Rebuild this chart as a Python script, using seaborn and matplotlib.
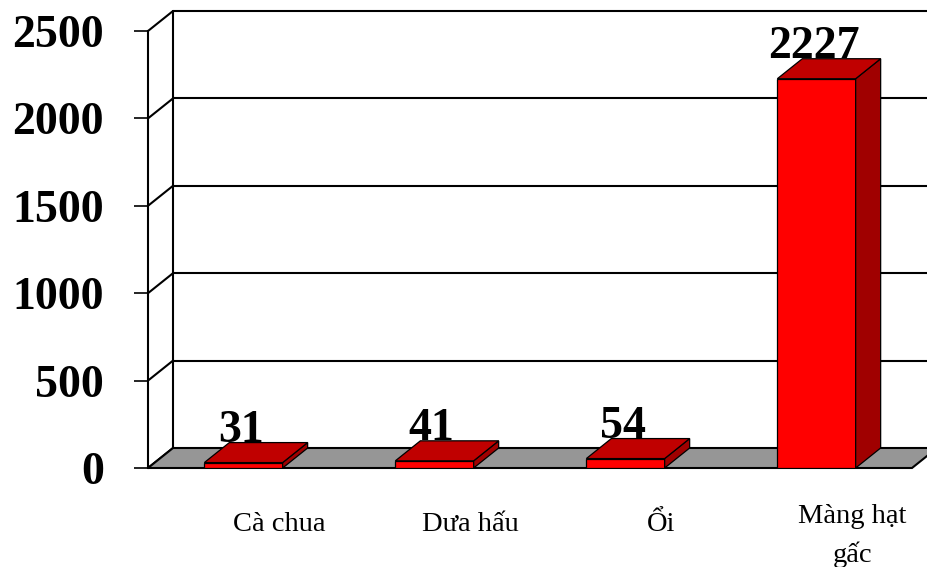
import pandas as pd
import seaborn as sns
import matplotlib.pyplot as plt
from matplotlib.patches import Polygon
from matplotlib.transforms import IdentityTransform

# dữ liệu
categories = ['Cà chua', 'Dưa hấu', 'Ổi', 'Màng hạt\ngấc']
values = [31, 41, 54, 2227]
yticks = [0, 500, 1000, 1500, 2000, 2500]

sns.set_style('white')
plt.rcParams['font.family'] = ['Liberation Serif', 'DejaVu Serif']
plt.rcParams['text.color'] = 'black'
plt.rcParams['ytick.color'] = 'black'
plt.rcParams['ytick.labelcolor'] = 'black'

DX, DY = 25, 20  # độ sâu 3D, tính bằng pixel
PT = 0.72        # 1 pixel = 0.72 point khi dpi=100
LW = 1.5         # nét tường

fig = plt.figure(figsize=(9.28, 5.67), dpi=100)
ax = fig.add_axes([148 / 928, 99 / 567, 764 / 928, 437 / 567])
df = pd.DataFrame({'cat': categories, 'val': values})
sns.barplot(data=df, x='cat', y='val', color='#ff0000', saturation=1,
            edgecolor='black', linewidth=0.9, width=0.41, ax=ax, zorder=5)
ax.set_xlim(-0.5, 3.5)
ax.set_ylim(0, 2500)
ax.set_xticks([])
ax.set_xlabel('')
ax.set_ylabel('')
ax.set_yticks(yticks, labels=[str(t) for t in yticks], fontsize=33, fontweight='bold')
ax.tick_params(axis='y', left=True, length=14 * PT, width=1.2, pad=30 * PT,
               color='black', labelcolor='black')
for s in ['top', 'right', 'bottom']:
    ax.spines[s].set_visible(False)
ax.spines['left'].set_color('black')
ax.spines['left'].set_linewidth(LW)

ident = IdentityTransform()


def px(x, y, back=False):
    X, Y = ax.transData.transform((x, y))
    if back:
        return (X + DX, Y + DY)
    return (X, Y)


# sàn xám
floor = [px(-0.5, 0), px(3.5, 0), px(3.5, 0, True), px(-0.5, 0, True)]
ax.add_patch(Polygon(floor, closed=True, facecolor='#969696', edgecolor='black',
                     linewidth=LW, transform=ident, clip_on=False, zorder=2))

# tường sau và tường trái
bx0, by0 = px(-0.5, 0, True)
bx1, by1 = px(-0.5, 2500, True)
ax.plot([bx0, bx1], [by0, by1], color='black', lw=LW, transform=ident, clip_on=False, zorder=1)
for t in yticks:
    fx, fy = px(-0.5, t)
    bx, by = px(-0.5, t, True)
    ax.plot([fx, bx], [fy, by], color='black', lw=LW, transform=ident, clip_on=False, zorder=1)
    if t > 0:
        ax.plot([bx, 940], [by, by], color='black', lw=LW, transform=ident, clip_on=False, zorder=1)

# mặt trên và mặt bên của cột
for p in list(ax.patches)[:len(values)]:
    x0, w, h = p.get_x(), p.get_width(), p.get_height()
    top = [px(x0, h), px(x0 + w, h), px(x0 + w, h, True), px(x0, h, True)]
    side = [px(x0 + w, 0), px(x0 + w, h), px(x0 + w, h, True), px(x0 + w, 0, True)]
    ax.add_patch(Polygon(side, closed=True, facecolor='#a00000', edgecolor='black',
                         linewidth=0.9, transform=ident, clip_on=False, zorder=5))
    ax.add_patch(Polygon(top, closed=True, facecolor='#c00000', edgecolor='black',
                         linewidth=0.9, transform=ident, clip_on=False, zorder=5))

# nhãn giá trị
for i, v in enumerate(values):
    ax.annotate(str(v), xy=(i, v), xytext=(-2, 21 * PT), textcoords='offset points',
                ha='center', va='baseline', fontsize=33, fontweight='bold', zorder=6)

# nhãn danh mục (mỗi dòng một đường cơ sở)
for i, c in enumerate(categories):
    lines = c.split('\n')
    first = 63 - 8 * (len(lines) - 1)
    for j, line in enumerate(lines):
        ax.annotate(line, xy=(i, 0), xytext=(36 * PT, -(first + 39 * j) * PT),
                    textcoords='offset points', ha='center', va='baseline', fontsize=20.5)

fig.savefig('out.png', dpi=100)
